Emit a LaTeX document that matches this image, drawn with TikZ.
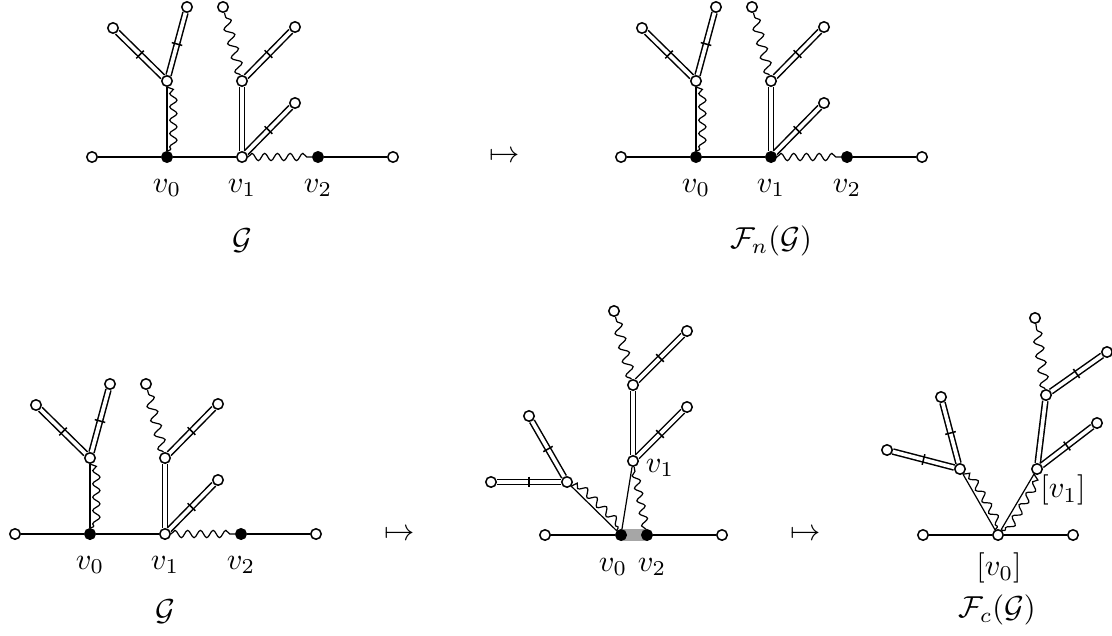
\documentclass[tikz,border=0pt]{standalone}
\usetikzlibrary{decorations.pathmorphing,decorations.markings,calc}
\pgfdeclarelayer{background}
\pgfsetlayers{background,main}
\tikzset{
  wn/.style={circle, draw, fill=white, inner sep=0pt, minimum size=3.45pt, line width=0.5pt},
  bn/.style={wn, fill=black},
  dbl/.style={double, double distance=1.2pt, line width=0.5pt},
  wavy/.style={decorate, decoration={snake, amplitude=1.2pt, segment length=4.2pt}},
  wavyleaf/.style={decorate, decoration={snake, amplitude=1.55pt, segment length=4.8pt}},
  wavyside/.style={decorate, decoration={snake, amplitude=1.2pt, segment length=4.4pt, raise=-2.1pt}},
  tk/.style={decorate, decoration={markings, mark=at position 0.5 with {\draw[line width=0.5pt] (0,-1.8pt) -- (0,1.8pt);}}},
  lbl/.style={inner sep=0pt},
  greybar/.style={line width=3.7pt, draw=black!35}
}
\newcommand\mygraph[3]{%
\begin{scope}[shift={#2}]
\node[wn] (#1l) at (92,157) {};
\node[bn] (#1v0) at (167,157) {};
\node[#3] (#1v1) at (242,157) {};
\node[bn] (#1v2) at (318,157) {};
\node[wn] (#1r) at (393,157) {};
\node[wn] (#1A) at (167,81) {};
\node[wn] (#1Al) at (113,28) {};
\node[wn] (#1Au) at (187,7) {};
\node[wn] (#1B) at (242,81) {};
\node[wn] (#1Bw) at (223,7) {};
\node[wn] (#1Br) at (295,27) {};
\node[wn] (#1Vd) at (295,103) {};
\node[lbl] (#1t0) at (167,188) {$v_0$};
\node[lbl] (#1t1) at (242,188) {$v_1$};
\node[lbl] (#1t2) at (318,188) {$v_2$};
\begin{pgfonlayer}{background}
\draw (#1l) -- (#1v0) -- (#1v1);
\draw (#1v2) -- (#1r);
\draw[wavy] (#1v1) -- (#1v2);
\draw (#1v0) -- (#1A);
\draw[wavyside] (#1v0) -- (#1A);
\draw[dbl] (#1A) -- (#1Al); \path[tk] (#1A) -- (#1Al);
\draw[dbl] (#1A) -- (#1Au); \path[tk] (#1A) -- (#1Au);
\draw[dbl] (#1v1) -- (#1B);
\draw[wavyleaf] (#1B) -- (#1Bw);
\draw[dbl] (#1B) -- (#1Br); \path[tk] (#1B) -- (#1Br);
\draw[dbl] (#1v1) -- (#1Vd); \path[tk] (#1v1) -- (#1Vd);
\end{pgfonlayer}
\end{scope}}
\begin{document}
\begin{tikzpicture}[x=0.33pt, y=-0.33pt, line width=0.5pt]
\useasboundingbox (0,0) rectangle (1112,635);
% top row
\mygraph{a}{(0,0)}{wn}
\mygraph{b}{(529,0)}{bn}
\node[lbl] (g1) at (242,241) {$\mathcal{G}$};
\node[lbl] (m1) at (505,157) {$\mapsto$};
\node[lbl] (g2) at (771,241) {$\mathcal{F}_n(\mathcal{G})$};
% bottom left
\mygraph{c}{(-77,377)}{wn}
\node[lbl] (g3) at (165,612) {$\mathcal{G}$};
\node[lbl] (m2) at (400,535) {$\mapsto$};
% bottom middle
\node[wn] (ml) at (545,535) {};
\node[bn] (mv0) at (621,535) {};
\node[bn] (mv2) at (647,535) {};
\node[wn] (mr) at (722,535) {};
\node[wn] (mv1) at (633,461) {};
\node[wn] (mB) at (633,385) {};
\node[wn] (mBr) at (687,331) {};
\node[wn] (mBw) at (614,311) {};
\node[wn] (mVd) at (687,407) {};
\node[wn] (mC) at (567,482) {};
\node[wn] (mCu) at (529,416) {};
\node[wn] (mCl) at (491,482) {};
\node[lbl] (mt0) at (613,567) {$v_0$};
\node[lbl] (mt2) at (652,567) {$v_2$};
\node[lbl] (mt1) at (660,468) {$v_1$};
\begin{pgfonlayer}{background}
\draw[greybar] (mv0.center) -- (mv2.center);
\draw (ml) -- (mv0);
\draw (mv2) -- (mr);
\draw (mv0) -- (mv1);
\draw[wavy] (mv2) -- (mv1);
\draw[dbl] (mv1) -- (mB);
\draw[dbl] (mB) -- (mBr); \path[tk] (mB) -- (mBr);
\draw[wavyleaf] (mB) -- (mBw);
\draw[dbl] (mv1) -- (mVd); \path[tk] (mv1) -- (mVd);
\draw (mv0) -- (mC);
\draw[wavyside] (mv0) -- (mC);
\draw[dbl] (mC) -- (mCu); \path[tk] (mC) -- (mCu);
\draw[dbl] (mC) -- (mCl); \path[tk] (mC) -- (mCl);
\end{pgfonlayer}
\node[lbl] (m3) at (806,535) {$\mapsto$};
% bottom right
\node[wn] (nl) at (923,535) {};
\node[wn] (nc) at (998,535) {};
\node[wn] (nr) at (1073,535) {};
\node[wn] (nC) at (960,469) {};
\node[wn] (nCu) at (941,397) {};
\node[wn] (nCl) at (887,450) {};
\node[wn] (nD) at (1037,469) {};
\node[wn] (nDr) at (1097,423) {};
\node[wn] (nE) at (1046,395) {};
\node[wn] (nEr) at (1107,352) {};
\node[wn] (nEw) at (1035,318) {};
\node[lbl] (nt1) at (1063,490) {$[v_1]$};
\node[lbl] (nt0) at (999,568) {$[v_0]$};
\node[lbl] (g4) at (997,610) {$\mathcal{F}_c(\mathcal{G})$};
\begin{pgfonlayer}{background}
\draw (nl) -- (nc) -- (nr);
\draw (nc) -- (nC);
\draw[wavyside] (nc) -- (nC);
\draw (nc) -- (nD);
\draw[wavyside] (nc) -- (nD);
\draw[dbl] (nC) -- (nCu); \path[tk] (nC) -- (nCu);
\draw[dbl] (nC) -- (nCl); \path[tk] (nC) -- (nCl);
\draw[dbl] (nD) -- (nE);
\draw[dbl] (nD) -- (nDr); \path[tk] (nD) -- (nDr);
\draw[dbl] (nE) -- (nEr); \path[tk] (nE) -- (nEr);
\draw[wavyleaf] (nE) -- (nEw);
\end{pgfonlayer}
\end{tikzpicture}
\end{document}
